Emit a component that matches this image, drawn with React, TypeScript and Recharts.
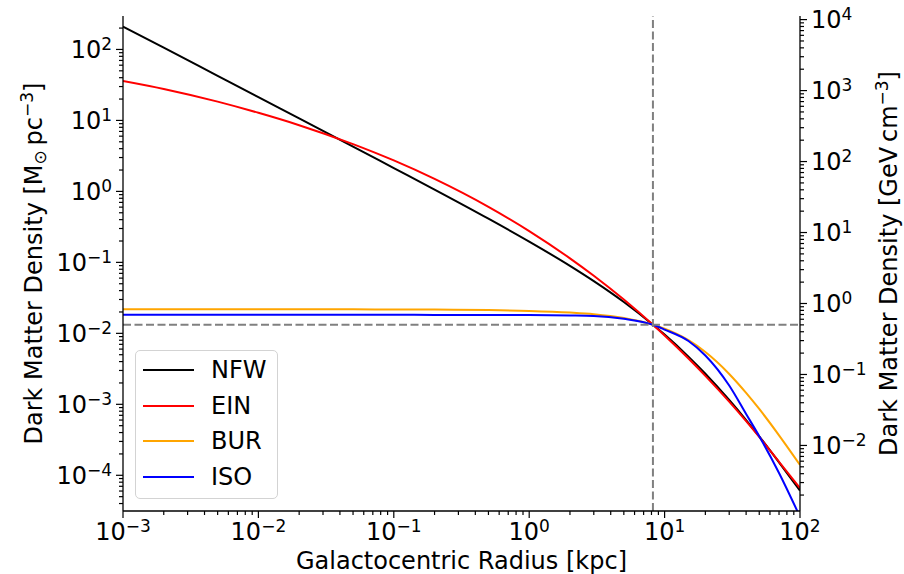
import { LineChart, Line, XAxis, YAxis, ReferenceLine, Legend } from 'recharts'

// radius grid in kpc
const radius = [0.001, 0.002, 0.005, 0.01, 0.02, 0.05, 0.1, 0.2, 0.5, 1, 2, 3, 5, 8.2, 10, 15, 20, 30, 40, 50, 70, 100]

// densities in Msun / pc^3
const nfw = [210, 106, 42.5, 21.3, 10.7, 4.28, 2.13, 1.06, 0.412, 0.196, 0.0893, 0.0544, 0.0276, 0.0132, 0.0096, 0.0047, 0.0027, 0.00115, 0.0006, 0.000353, 0.000152, 0.000061]
const ein = [36, 27.8, 18.4, 12.8, 8.57, 4.64, 2.73, 1.5, 0.606, 0.276, 0.114, 0.0647, 0.0299, 0.0132, 0.00933, 0.00442, 0.00252, 0.00109, 0.000579, 0.000347, 0.000155, 0.000066]
const bur = [0.0218, 0.0218, 0.0218, 0.0218, 0.0218, 0.0218, 0.0217, 0.0216, 0.0213, 0.0207, 0.0196, 0.0186, 0.0164, 0.0132, 0.0116, 0.008, 0.00545, 0.00268, 0.00145, 0.00086, 0.000366, 0.00014]
const iso = [0.0183, 0.0183, 0.0183, 0.0183, 0.0183, 0.0183, 0.0183, 0.0182, 0.0182, 0.0181, 0.0179, 0.0176, 0.016, 0.0132, 0.0113, 0.0078, 0.00488, 0.00184, 0.00073, 0.000355, 0.000108, 0.000026]

// solar position and local density
const rSun = 8.2
const rhoSun = 0.0132

// 1 Msun/pc^3 in GeV/cm^3
const msunToGev = 37.97

const xTicks = [0.001, 0.01, 0.1, 1, 10, 100]
const leftTicks = [1e-4, 1e-3, 1e-2, 1e-1, 1, 10, 100]
const rightTicks = [1e-2, 1e-1, 1, 10, 100, 1000, 10000]

const xDomain = [0.001, 100]
const leftDomain = [3.14e-5, 296]
const rightDomain = [leftDomain[0] * msunToGev, leftDomain[1] * msunToGev]

const series = [
  { key: 'nfw', name: 'NFW', color: '#000000' },
  { key: 'ein', name: 'EIN', color: '#ff0000' },
  { key: 'bur', name: 'BUR', color: '#ffa500' },
  { key: 'iso', name: 'ISO', color: '#0000ff' },
]

const data = radius.map((r, i) => ({ r, nfw: nfw[i], ein: ein[i], bur: bur[i], iso: iso[i] }))

// add 2..9 minor ticks between the decades, kept inside the domain
const withMinor = (majors: number[], domain: number[]) => {
  const out: number[] = []
  const lo = Math.floor(Math.log10(domain[0])) - 1
  const hi = Math.ceil(Math.log10(domain[1]))
  for (let e = lo; e <= hi; e++) {
    for (let m = 1; m <= 9; m++) {
      const v = m * Math.pow(10, e)
      if (v >= domain[0] * 0.999 && v <= domain[1] * 1.001) out.push(v)
    }
  }
  majors.forEach(v => { if (!out.includes(v)) out.push(v) })
  return out.sort((a, b) => a - b)
}

const FONT = '"DejaVu Sans", sans-serif'
const FS = 24
const SUP = 17
const TICK = 7
const MINOR = 4
const GAP = 4

const isMajor = (v: number) => Math.abs(Math.log10(v) - Math.round(Math.log10(v))) < 1e-6
const expText = (v: number) => {
  const e = Math.round(Math.log10(v))
  return e < 0 ? `\u2212${-e}` : `${e}`
}

const Power = ({ v }: { v: number }) => (
  <>
    10<tspan dy={-8} fontSize={SUP}>{expText(v)}</tspan>
  </>
)

function LeftTick({ x, y, payload }: any) {
  const v = payload.value
  const major = isMajor(v)
  const ax = x + TICK + GAP
  return (
    <g>
      <line x1={ax - (major ? TICK : MINOR)} x2={ax} y1={y} y2={y} stroke="#000" strokeWidth={1.2} />
      {major && (
        <text x={x} y={y + 8.5} textAnchor="end" fontFamily={FONT} fontSize={FS} fill="#000">
          <Power v={v} />
        </text>
      )}
    </g>
  )
}

function RightTick({ x, y, payload }: any) {
  const v = payload.value
  const major = isMajor(v)
  const ax = x - TICK - GAP
  return (
    <g>
      <line x1={ax} x2={ax + (major ? TICK : MINOR)} y1={y} y2={y} stroke="#000" strokeWidth={1.2} />
      {major && (
        <text x={x} y={y + 8.5} textAnchor="start" fontFamily={FONT} fontSize={FS} fill="#000">
          <Power v={v} />
        </text>
      )}
    </g>
  )
}

function BottomTick({ x, y, payload }: any) {
  const v = payload.value
  const major = isMajor(v)
  const ay = y - TICK - GAP
  return (
    <g>
      <line x1={x} x2={x} y1={ay} y2={ay + (major ? TICK : MINOR)} stroke="#000" strokeWidth={1.2} />
      {major && (
        <text x={x} y={y + 18} textAnchor="middle" fontFamily={FONT} fontSize={FS} fill="#000">
          <Power v={v} />
        </text>
      )}
    </g>
  )
}

// keep the legend in the plotting order, not alphabetical
function LegendBox({ payload }: any) {
  const items = series
    .map(s => (payload || []).find((p: any) => p.value === s.name) || { value: s.name, color: s.color })
  return (
    <div
      style={{
        position: 'relative',
        width: 143,
        height: 149,
        boxSizing: 'border-box',
        border: '1px solid #d3d3d3',
        borderRadius: 5,
        background: 'rgba(255,255,255,0.8)',
        fontFamily: FONT,
        fontSize: FS,
        color: '#000',
      }}
    >
      {items.map((p: any, i: number) => (
        <div
          key={p.value}
          style={{ position: 'absolute', left: 7, top: 3 + i * 35.7, height: 32, display: 'flex', alignItems: 'center' }}
        >
          <span style={{ display: 'inline-block', width: 51, height: 2, background: p.color }} />
          <span style={{ marginLeft: 17, lineHeight: '32px' }}>{p.value}</span>
        </div>
      ))}
    </div>
  )
}

export default function App() {
  return (
    <div style={{ position: 'relative', width: 904, height: 574, background: '#fff' }}>
      <style>{'body{margin:0}'}</style>
      <LineChart width={904} height={574} data={data} margin={{ top: 16, right: 0, bottom: 0, left: 0 }}>
        <XAxis
          dataKey="r"
          type="number"
          scale="log"
          domain={xDomain}
          allowDataOverflow
          ticks={withMinor(xTicks, xDomain)}
          interval={0}
          height={63}
          tickSize={TICK}
          tickMargin={GAP}
          tickLine={false}
          tick={<BottomTick />}
          stroke="#000"
          strokeWidth={1.3}
        />
        <XAxis
          xAxisId="top"
          orientation="top"
          dataKey="r"
          type="number"
          scale="log"
          domain={xDomain}
          allowDataOverflow
          height={0}
          tick={false}
          tickLine={false}
          stroke="#000"
          strokeWidth={1.3}
        />
        <YAxis
          yAxisId="left"
          type="number"
          scale="log"
          domain={leftDomain}
          allowDataOverflow
          ticks={withMinor(leftTicks, leftDomain)}
          interval={0}
          width={123}
          tickSize={TICK}
          tickMargin={GAP}
          tickLine={false}
          tick={<LeftTick />}
          stroke="#000"
          strokeWidth={1.3}
        />
        <YAxis
          yAxisId="right"
          orientation="right"
          type="number"
          scale="log"
          domain={rightDomain}
          allowDataOverflow
          ticks={withMinor(rightTicks, rightDomain)}
          interval={0}
          width={104}
          tickSize={TICK}
          tickMargin={GAP}
          tickLine={false}
          tick={<RightTick />}
          stroke="#000"
          strokeWidth={1.3}
        />
        {series.map(s => (
          <Line
            key={s.key}
            yAxisId="left"
            dataKey={s.key}
            name={s.name}
            type="monotone"
            stroke={s.color}
            strokeWidth={2}
            dot={false}
            activeDot={false}
            isAnimationActive={false}
          />
        ))}
        <ReferenceLine yAxisId="left" x={rSun} stroke="#808080" strokeWidth={2} strokeDasharray="8 3.5" />
        <ReferenceLine yAxisId="left" y={rhoSun} stroke="#808080" strokeWidth={2} strokeDasharray="8 3.5" />
        <Legend
          content={<LegendBox />}
          layout="horizontal"
          verticalAlign="middle"
          align="center"
          wrapperStyle={{ left: 135, top: 350, width: 143, height: 149 }}
        />
      </LineChart>
      <svg
        width={904}
        height={574}
        style={{ position: 'absolute', left: 0, top: 0, pointerEvents: 'none' }}
        fontFamily={FONT}
        fontSize={FS}
        fill="#000"
      >
        <text x={461.5} y={569} textAnchor="middle">Galactocentric Radius [kpc]</text>
        <text transform="translate(42,263.5) rotate(-90)" textAnchor="middle">
          Dark Matter Density [M<tspan dy={4} fontSize={SUP}>{'\u2299'}</tspan>
          <tspan dy={-4}>{'\u2009pc'}</tspan>
          <tspan dy={-9} fontSize={SUP}>{'\u22123'}</tspan>
          <tspan dy={9}>]</tspan>
        </text>
        <text transform="translate(897,263.5) rotate(-90)" textAnchor="middle">
          Dark Matter Density [GeV{'\u2009'}cm<tspan dy={-9} fontSize={SUP}>{'\u22123'}</tspan>
          <tspan dy={9}>]</tspan>
        </text>
      </svg>
    </div>
  )
}
